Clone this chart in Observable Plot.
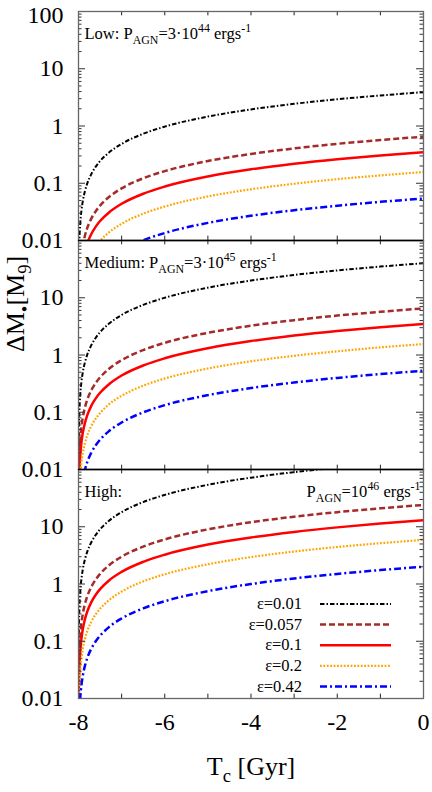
<!DOCTYPE html>
<html>
<head>
<meta charset="utf-8">
<script src="https://cdn.jsdelivr.net/npm/d3@7"></script>
<script src="https://cdn.jsdelivr.net/npm/@observablehq/plot@0.6"></script>
<style>
  html, body { margin: 0; padding: 0; background: #fff; }
  #chart { width: 432px; height: 792px; }
  #chart svg, #chart svg text { font-family: "Liberation Serif", "DejaVu Serif", serif !important; }
</style>
</head>
<body>
<div id="chart"></div>
<script>
// ---- data ----
const tGyr = [-7.999, -7.995, -7.99, -7.98, -7.96, -7.93, -7.9, -7.85, -7.8, -7.7, -7.6, -7.5, -7.3, -7, -6.5, -6, -5, -4, -3, -2, -1, 0];

const epsLabels = ["ε=0.01", "ε=0.057", "ε=0.1", "ε=0.2", "ε=0.42"];
const panels = ["Low", "Medium", "High"];

// Low: P_AGN = 3e44
const low_e001  = [0.0005, 0.0024, 0.0049, 0.0098, 0.0195, 0.0341, 0.0488, 0.0731, 0.0975, 0.146, 0.195, 0.244, 0.341, 0.488, 0.731, 0.975, 1.46, 1.95, 2.44, 2.93, 3.41, 3.9];
const low_e0057 = [0.0001, 0.0004, 0.0008, 0.0016, 0.0033, 0.0057, 0.0081, 0.0122, 0.0163, 0.0244, 0.0325, 0.0406, 0.0569, 0.0813, 0.122, 0.163, 0.244, 0.325, 0.406, 0.488, 0.569, 0.65];
const low_e01   = [0.00004, 0.0002, 0.0004, 0.0009, 0.0018, 0.0031, 0.0044, 0.0066, 0.0088, 0.0131, 0.0175, 0.0219, 0.0306, 0.0438, 0.0656, 0.0875, 0.131, 0.175, 0.219, 0.263, 0.306, 0.35];
const low_e02   = [0.00002, 0.0001, 0.0002, 0.0004, 0.0008, 0.0014, 0.002, 0.0029, 0.0039, 0.0059, 0.0078, 0.0098, 0.0137, 0.0196, 0.0294, 0.0392, 0.0588, 0.0784, 0.098, 0.118, 0.137, 0.157];
const low_e042  = [0.000007, 0.00003, 0.00007, 0.00014, 0.00027, 0.00047, 0.00068, 0.001, 0.0014, 0.002, 0.0027, 0.0034, 0.0047, 0.0068, 0.0101, 0.0135, 0.0203, 0.027, 0.0338, 0.0405, 0.0473, 0.054];

// Medium: P_AGN = 3e45
const med_e001  = [0.005, 0.025, 0.05, 0.1, 0.2, 0.35, 0.5, 0.75, 1, 1.5, 2, 2.5, 3.5, 5, 7.5, 10, 15, 20, 25, 30, 35, 40];
const med_e0057 = [0.0008, 0.0041, 0.0081, 0.0163, 0.0325, 0.0569, 0.0813, 0.122, 0.163, 0.244, 0.325, 0.406, 0.569, 0.813, 1.22, 1.63, 2.44, 3.25, 4.06, 4.88, 5.69, 6.5];
const med_e01   = [0.0004, 0.0022, 0.0044, 0.0088, 0.0175, 0.0306, 0.0438, 0.0656, 0.0875, 0.131, 0.175, 0.219, 0.306, 0.438, 0.656, 0.875, 1.31, 1.75, 2.19, 2.63, 3.06, 3.5];
const med_e02   = [0.0002, 0.001, 0.0019, 0.0039, 0.0078, 0.0136, 0.0194, 0.0291, 0.0388, 0.0581, 0.0775, 0.0969, 0.136, 0.194, 0.291, 0.388, 0.581, 0.775, 0.969, 1.16, 1.36, 1.55];
const med_e042  = [0.00007, 0.0003, 0.0007, 0.0013, 0.0027, 0.0046, 0.0066, 0.0099, 0.0133, 0.0199, 0.0265, 0.0331, 0.0464, 0.0663, 0.0994, 0.133, 0.199, 0.265, 0.331, 0.398, 0.464, 0.53];

// High: P_AGN = 1e46
const high_e001  = [0.018, 0.09, 0.18, 0.36, 0.72, 1.26, 1.8, 2.7, 3.6, 5.4, 7.2, 9, 12.6, 18, 27, 36, 54, 72, 90, 108, 126, 144];
const high_e0057 = [0.003, 0.015, 0.03, 0.06, 0.12, 0.21, 0.3, 0.45, 0.6, 0.9, 1.2, 1.5, 2.1, 3, 4.5, 6, 9, 12, 15, 18, 21, 24];
const high_e01   = [0.0016, 0.0081, 0.0163, 0.0325, 0.065, 0.114, 0.163, 0.244, 0.325, 0.488, 0.65, 0.813, 1.14, 1.63, 2.44, 3.25, 4.88, 6.5, 8.13, 9.75, 11.4, 13];
const high_e02   = [0.0007, 0.0037, 0.0074, 0.0148, 0.0295, 0.0516, 0.0738, 0.111, 0.148, 0.221, 0.295, 0.369, 0.516, 0.738, 1.11, 1.48, 2.21, 2.95, 3.69, 4.43, 5.16, 5.9];
const high_e042  = [0.00025, 0.00125, 0.0025, 0.005, 0.01, 0.0175, 0.025, 0.0375, 0.05, 0.075, 0.1, 0.125, 0.175, 0.25, 0.375, 0.5, 0.75, 1, 1.25, 1.5, 1.75, 2];

const yTickValues = [0.01, 0.1, 1, 10, 100];
const yTickLabels = ["0.01", "0.1", "1", "10", "100"];
const yMinorTicks = [0.02,0.03,0.04,0.05,0.06,0.07,0.08,0.09, 0.2,0.3,0.4,0.5,0.6,0.7,0.8,0.9, 2,3,4,5,6,7,8,9, 20,30,40,50,60,70,80,90];
const xLabelValues = [-8, -6, -4, -2, 0];
const xLabelTexts = ["-8", "-6", "-4", "-2", "0"];
const xTickValues = [-7, -6, -5, -4, -3, -2, -1];

const panelNotes = [
  {panel: "Low", s: "Low: P_{AGN}=3·10^{44} ergs^{-1}", side: "left"},
  {panel: "Medium", s: "Medium: P_{AGN}=3·10^{45} ergs^{-1}", side: "left"},
  {panel: "High", s: "High:", side: "left"},
  {panel: "High", s: "P_{AGN}=10^{46} ergs^{-1}", side: "right"}
];

// ---- styles ----
const styles = [
  {color: "#000000", width: 2,   dash: "4.5,2,1.5,2"},
  {color: "#a52a2a", width: 2.5, dash: "6,3"},
  {color: "#ff0000", width: 2.5, dash: null},
  {color: "#ffa500", width: 2.2, dash: "1.8,1.6"},
  {color: "#0000ff", width: 2.5, dash: "7,3,2,3"}
];

const series = {
  Low: [low_e001, low_e0057, low_e01, low_e02, low_e042],
  Medium: [med_e001, med_e0057, med_e01, med_e02, med_e042],
  High: [high_e001, high_e0057, high_e01, high_e02, high_e042]
};

const rows = panels.flatMap(p => series[p].flatMap((vals, i) =>
  vals.map((m, j) => ({panel: p, eps: epsLabels[i], t: tGyr[j], m}))));

const yLabelRows = panels.flatMap(p => yTickValues.map((v, i) => ({panel: p, v, s: yTickLabels[i]}))
  .filter(d => d.v !== 100));
const yTopLabel = [{panel: "Low", v: 100, s: yTickLabels[4]}];
const xLabelRows = xLabelValues.map((v, i) => ({panel: "High", v, s: xLabelTexts[i]}));

const W = 432, H = 792, mL = 78, mR = 9, mT = 10, mB = 93;
const fw = W - mL - mR;
const fh = (H - mT - mB) / 3;
const FONT = "Liberation Serif, DejaVu Serif, serif";

const lineMarks = epsLabels.map((e, i) => Plot.line(rows.filter(d => d.eps === e), {
  x: "t", y: "m", fy: "panel", z: "panel",
  stroke: styles[i].color, strokeWidth: styles[i].width,
  strokeDasharray: styles[i].dash || undefined,
  strokeLinecap: "butt", strokeLinejoin: "miter",
  curve: "monotone-x", clip: true
}));

const svg = Plot.plot({
  width: W, height: H,
  marginLeft: mL, marginRight: mR, marginTop: mT, marginBottom: mB,
  style: {fontFamily: FONT, fontSize: "16px", background: "#fff", color: "#000", overflow: "visible"},
  x: {domain: [-8, 0], axis: null},
  y: {type: "log", domain: [0.01, 100], axis: null},
  fy: {domain: panels, padding: 0, axis: null},
  marks: [
    ...lineMarks,
    // inward ticks
    Plot.tickY(yTickValues, {y: d => d, insetRight: fw - 7, stroke: "#333"}),
    Plot.tickY(yTickValues, {y: d => d, insetLeft: fw - 7, stroke: "#333"}),
    Plot.tickY(yMinorTicks, {y: d => d, insetRight: fw - 3.5, stroke: "#333"}),
    Plot.tickY(yMinorTicks, {y: d => d, insetLeft: fw - 3.5, stroke: "#333"}),
    Plot.tickX(xTickValues, {x: d => d, insetBottom: fh - 5, stroke: "#222"}),
    Plot.tickX(xTickValues, {x: d => d, insetTop: fh - 5, stroke: "#222"}),
    Plot.frame({stroke: "#666", strokeWidth: 1.3}),
    Plot.ruleY([{panel: "Low"}, {panel: "Medium"}], {y: () => 0.01, fy: "panel", stroke: "#000", strokeWidth: 1.3}),
    // tick labels
    Plot.text(yLabelRows, {y: "v", fy: "panel", text: "s", frameAnchor: "left", dx: -15, textAnchor: "end", fontSize: 24, fontFamily: FONT, fill: "#000"}),
    Plot.text(yTopLabel, {y: "v", fy: "panel", text: "s", frameAnchor: "left", dx: -15, dy: 4, textAnchor: "end", fontSize: 24, fontFamily: FONT, fill: "#000"}),
    Plot.text(xLabelRows, {x: "v", fy: "panel", text: "s", frameAnchor: "bottom", dy: 31, fontSize: 24, fontFamily: FONT, fill: "#000"}),
    // panel notes
    Plot.text(panelNotes.filter(d => d.side === "left"), {fy: "panel", text: "s", frameAnchor: "top-left", dx: 6, dy: 16, textAnchor: "start", fontSize: 16.5, fontFamily: FONT, fill: "#000"}),
    Plot.text(panelNotes.filter(d => d.side === "right"), {fy: "panel", text: "s", frameAnchor: "top-right", dx: -3, dy: 16, textAnchor: "end", fontSize: 16.5, fontFamily: FONT, fill: "#000"}),
    // axis titles
    Plot.text([{panel: "Medium", s: "ΔM_{•}[M_{9}]"}], {fy: "panel", text: "s", frameAnchor: "left", dx: -63, dy: -3, rotate: -90, fontSize: 26, fontFamily: FONT, fill: "#000"}),
    Plot.text([{panel: "High", s: "T_{c} [Gyr]"}], {fy: "panel", text: "s", frameAnchor: "bottom", dy: 76, fontSize: 26, fontFamily: FONT, fill: "#000"})
  ]
});

document.getElementById("chart").appendChild(svg);

// legend inside the High panel
const frameBottom = H - mB, frameRight = W - mR;
const lg = d3.select(svg).append("g").attr("font-family", FONT).attr("font-size", 16.5);
epsLabels.forEach((e, i) => {
  const y = frameBottom - 95 + i * 20.6;
  lg.append("text").attr("x", frameRight - 121).attr("y", y).attr("dy", "0.32em")
    .attr("text-anchor", "end").attr("fill", "#000").text(e);
  const ln = lg.append("line").attr("x1", frameRight - 103).attr("x2", frameRight - 32)
    .attr("y1", y).attr("y2", y)
    .attr("stroke", styles[i].color).attr("stroke-width", styles[i].width);
  if (styles[i].dash) ln.attr("stroke-dasharray", styles[i].dash);
});

// rich text: sub/superscripts
function richify(el) {
  const src = el.textContent;
  if (!/[_^]\{/.test(src)) return;
  const fs = parseFloat(getComputedStyle(el).fontSize) || 16;
  const parts = src.split(/(_\{[^}]*\}|\^\{[^}]*\})/).filter(s => s.length);
  while (el.firstChild) el.removeChild(el.firstChild);
  let shift = 0;
  for (const p of parts) {
    const ts = document.createElementNS("http://www.w3.org/2000/svg", "tspan");
    let target = 0, txt = p, small = false;
    if (p.startsWith("_{")) { target = 0.28 * fs; txt = p.slice(2, -1); small = true; }
    else if (p.startsWith("^{")) { target = -0.42 * fs; txt = p.slice(2, -1); small = true; }
    ts.setAttribute("dy", (target - shift).toFixed(2));
    shift = target;
    if (small) ts.setAttribute("font-size", (0.72 * fs).toFixed(1));
    ts.textContent = txt;
    el.appendChild(ts);
  }
}
svg.querySelectorAll("text").forEach(richify);
</script>
</body>
</html>
